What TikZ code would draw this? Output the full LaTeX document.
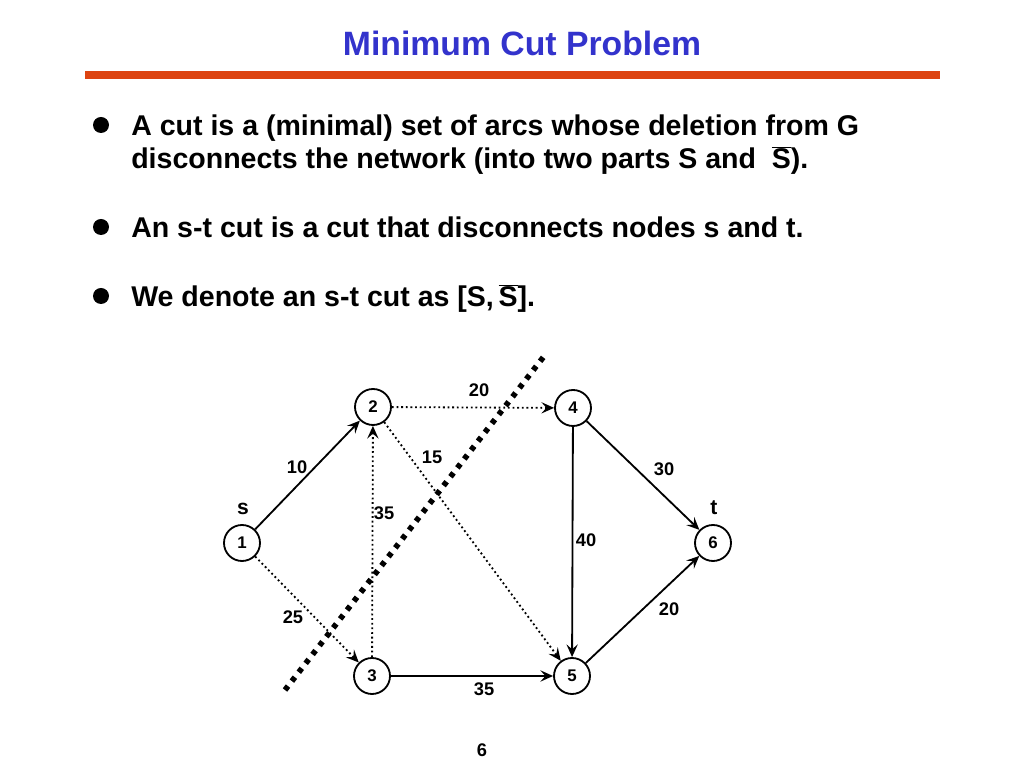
\documentclass[tikz,border=0pt]{standalone}
\usepackage{fontspec}
\setmainfont{Liberation Sans}
\usetikzlibrary{arrows.meta}
\definecolor{ctitle}{HTML}{3333CC}
\definecolor{crule}{HTML}{DD4411}
\newcommand{\Sbar}{\ensuremath{\overline{\mbox{S}}}}
\tikzset{
  every picture/.style={font=\bfseries},
  vertex/.style={draw, circle, line width=1.3pt, minimum size=0.9cm, inner sep=0pt, font=\bfseries\fontsize{12}{13}\selectfont},
  arc/.style={-{Stealth[length=9pt, width=8pt, inset=3.5pt]}, line width=1.3pt},
  dotarc/.style={arc, dotted},
  lbl/.style={font=\bfseries\fontsize{13}{14}\selectfont, inner sep=1pt},
  bullet/.style={circle, fill, inner sep=0pt, minimum size=0.4cm},
  line/.style={anchor=base west, font=\bfseries\fontsize{20.3}{24}\selectfont, inner sep=0pt},
  cutline/.style={line width=4pt, dash pattern=on 3.5pt off 4.5pt},
}
\begin{document}
\begin{tikzpicture}
  \useasboundingbox (0,0) rectangle (25.6,19.2);
  % title and rule
  \node[text=ctitle, font=\bfseries\fontsize{24}{28}\selectfont] (title) at (13.05,18.125) {Minimum Cut Problem};
  \draw[crule, line width=5.7pt] (2.125,17.325) -- (23.5,17.325);
  % bullets
  \node[bullet] (b1) at (2.525,16.075) {};
  \node[line] (t1) at (3.275,15.8) {A cut is a (minimal) set of arcs whose deletion from G};
  \node[line] (t2) at (3.275,14.975) {disconnects the network (into two parts S and \ \Sbar).};
  \node[bullet] (b2) at (2.525,13.525) {};
  \node[line] (t3) at (3.275,13.25) {An s-t cut is a cut that disconnects nodes s and t.};
  \node[bullet] (b3) at (2.525,11.8) {};
  \node[line] (t4) at (3.275,11.525) {We denote an s-t cut as [S,\,\Sbar].};
  % network
  \node[vertex] (n1) at (6.05,5.625) {1};
  \node[vertex] (n2) at (9.325,9.025) {2};
  \node[vertex] (n3) at (9.3,2.3) {3};
  \node[vertex] (n4) at (14.325,9.0) {4};
  \node[vertex] (n5) at (14.3,2.3) {5};
  \node[vertex] (n6) at (17.825,5.625) {6};
  \node[lbl, font=\bfseries\fontsize{15}{16}\selectfont] (ls) at (6.075,6.475) {s};
  \node[lbl, font=\bfseries\fontsize{15}{16}\selectfont] (lt) at (17.85,6.5) {t};
  \draw[arc] (n1) -- (n2);
  \draw[dotarc] (n1) -- (n3);
  \draw[dotarc] (n2) -- (n4);
  \draw[dotarc] (n2) -- (n5);
  \draw[dotarc] (n3) -- (n2);
  \draw[arc] (n3) -- (n5);
  \draw[arc] (n4) -- (n5);
  \draw[arc] (n4) -- (n6);
  \draw[arc] (n5) -- (n6);
  \node[lbl] (l12) at (7.425,7.525) {10};
  \node[lbl] (l25) at (10.8,7.775) {15};
  \node[lbl] (l24) at (11.975,9.45) {20};
  \node[lbl] (l46) at (16.6,7.475) {30};
  \node[lbl] (l32) at (9.6,6.375) {35};
  \node[lbl] (l45) at (14.65,5.7) {40};
  \node[lbl] (l13) at (7.325,3.775) {25};
  \node[lbl] (l35) at (12.1,1.975) {35};
  \node[lbl] (l56) at (16.725,3.975) {20};
  % the cut
  \coordinate (c1) at (7.125,1.95);
  \coordinate (c2) at (13.625,10.325);
  \draw[cutline] (c1) -- (c2);
  \node[lbl] (page) at (12.05,0.45) {6};
\end{tikzpicture}
\end{document}
